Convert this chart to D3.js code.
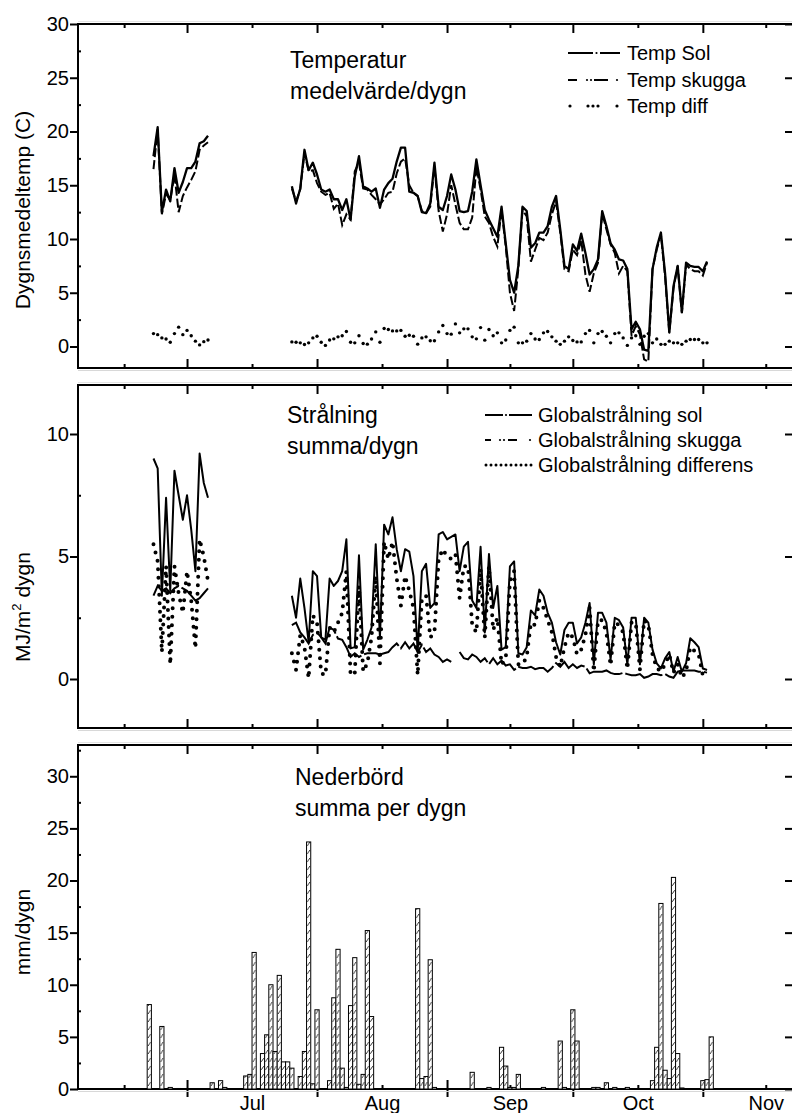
<!DOCTYPE html>
<html lang="sv">
<head>
<meta charset="utf-8">
<title>Temperatur, strålning och nederbörd</title>
<script src="https://cdn.jsdelivr.net/npm/d3@7"></script>
<style>
  body { margin: 0; background: #fff; }
  svg { display: block; }
  text { font-family: "Liberation Sans", Arial, sans-serif; fill: #000; }
</style>
</head>
<body>
<script>
var w = 792, h = 1113;
var left = 78, right = 793;

var parse = d3.timeParse("%Y-%m-%d");

// two measuring periods, one value per day
var days1 = d3.timeDay.range(parse("2001-06-23"), parse("2001-07-07"));
var days2 = d3.timeDay.range(parse("2001-07-26"), parse("2001-11-03"));

// Temperatur medelvärde/dygn (C)
var tempSol1 = [17.7, 20.4, 12.5, 14.6, 13.5, 16.6, 14.3, 15.3, 16.6, 16.6, 17.2, 18.9, 19.1, 19.6];
var tempSkugga1 = [16.5, 20.2, 12.3, 14.2, 13.6, 16.0, 12.5, 14.0, 14.8, 15.5, 16.3, 18.3, 18.7, 19.0];
var tempDiff1 = [1.2, 1.1, 0.8, 0.7, 0.4, 1.2, 1.8, 1.1, 1.5, 1.0, 0.5, 0.15, 0.45, 0.6];

var tempSol2 = [14.9, 13.3, 14.7, 18.3, 16.4, 17.1, 16.0, 14.6, 14.4, 14.6,
  13.7, 13.7, 12.7, 13.7, 11.8, 15.8, 17.7, 14.9, 14.7, 14.4,
  14.7, 12.9, 14.6, 15.2, 15.6, 17.2, 18.5, 18.5, 14.4, 14.3,
  14.0, 12.5, 12.4, 13.3, 17.1, 13.0, 12.7, 14.0, 16.0, 14.6,
  12.6, 12.5, 12.6, 14.4, 17.4, 15.0, 12.7, 11.8, 11.0, 10.2,
  13.0, 9.6, 6.2, 5.0, 7.5, 13.0, 12.6, 9.2, 9.6, 10.6,
  10.6, 11.2, 13.0, 14.0, 10.9, 7.5, 7.2, 9.5, 8.9, 10.5,
  8.7, 6.7, 7.2, 8.1, 12.6, 11.2, 9.6, 9.0, 8.1, 8.0,
  7.2, 1.6, 2.3, 1.6, -0.3, -0.4, 7.2, 9.2, 10.6, 6.8,
  1.3, 5.6, 7.5, 3.2, 7.8, 7.5, 7.4, 7.4, 7.0, 7.9];
var tempSkugga2 = [14.7, 13.5, 14.6, 18.0, 16.3, 16.4, 15.2, 14.4, 14.1, 14.3,
  12.8, 13.3, 11.3, 12.3, 11.8, 16.3, 17.1, 14.7, 14.6, 14.1,
  13.7, 13.2, 13.7, 14.3, 14.4, 16.1, 17.2, 17.5, 15.0, 14.3,
  14.0, 12.6, 12.4, 13.0, 16.7, 12.6, 10.7, 12.3, 15.0, 13.2,
  11.5, 10.9, 10.9, 12.0, 16.7, 14.6, 12.1, 11.5, 10.2, 9.3,
  12.7, 9.3, 5.0, 3.3, 7.2, 12.7, 12.1, 7.9, 9.0, 10.1,
  9.9, 10.6, 12.3, 13.5, 10.6, 7.2, 7.0, 9.0, 8.5, 9.9,
  6.7, 5.1, 6.8, 7.8, 12.4, 10.9, 9.5, 8.7, 6.8, 7.5,
  7.0, 1.0, 1.9, 1.1, -1.2, -1.4, 7.2, 9.0, 10.4, 6.5,
  1.3, 5.4, 7.5, 3.1, 7.6, 7.2, 7.0, 7.0, 6.6, 7.8];
var tempDiff2 = [0.43, 0.4, 0.34, 0.19, 0.34, 0.8, 0.96, 0.4, 0.1, 0.6,
  0.71, 0.9, 1.0, 1.4, 0.4, 0.34, 1.0, 0.28, 0.22, 0.7,
  1.36, 0.4, 1.67, 1.58, 1.45, 1.45, 1.5, 0.96, 1.05, 0.96,
  0.22, 0.8, 0.9, 0.53, 0.53, 1.36, 1.95, 1.2, 1.15, 2.1,
  1.27, 1.64, 1.64, 0.9, 0.71, 1.76, 0.59, 1.58, 1.0, 1.27,
  0.34, 0.6, 1.5, 1.8, 0.34, 0.34, 0.5, 1.2, 0.7, 0.65,
  1.27, 1.4, 0.9, 0.5, 0.2, 0.5, 0.9, 0.56, 0.43, 0.43,
  1.2, 1.5, 0.34, 1.2, 1.4, 0.96, 0.34, 1.2, 1.27, 0.8,
  0.1, 0.8, 1.0, 0.2, 0.96, 1.2, 0.34, 0.7, 0.2, 0.2,
  0.5, 0.34, 0.34, 0.2, 0.5, 0.65, 0.65, 0.65, 0.34, 0.34];

// Globalstrålning summa/dygn (MJ/m2 dygn)
var globSol1 = [9.0, 8.6, 3.4, 7.4, 3.6, 8.5, 7.5, 6.5, 7.5, 6.1, 4.4, 9.2, 8.0, 7.4];
var globSkugga1 = [3.4, 3.8, 3.6, 3.7, 3.5, 3.7, 3.8, 3.7, 3.6, 3.4, 3.2, 3.3, 3.5, 3.7];
var globDiff1 = [5.5, 4.8, 1.1, 4.6, 0.6, 4.6, 3.5, 2.7, 4.4, 3.2, 1.25, 5.7, 5.0, 4.0];

var globSol2 = [3.4, 2.5, 4.1, 2.9, 1.5, 4.4, 4.2, 1.7, 1.6, 4.1,
  3.8, 4.0, 4.4, 5.7, 1.25, 1.3, 5.05, 1.2, 1.6, 2.1,
  5.5, 1.7, 6.3, 5.9, 6.6, 5.3, 4.4, 5.3, 5.2, 4.2,
  1.1, 4.4, 4.7, 2.9, 3.1, 5.9, 6.0, 5.7, 5.8, 5.9,
  4.4, 5.4, 5.6, 3.2, 2.9, 5.4, 1.9, 5.1, 2.9, 3.8,
  1.2, 1.3, 4.6, 4.8, 1.05, 1.0, 1.3, 2.8, 2.6, 3.65,
  3.4, 2.7, 2.3, 1.5, 1.0, 2.0, 2.3, 2.3, 1.45, 1.7,
  2.3, 3.1, 0.6, 2.7, 2.7, 2.3, 0.8, 2.5, 2.4, 2.1,
  0.6, 2.5, 2.5, 0.6, 2.5, 2.3, 1.2, 0.64, 0.43, 0.84,
  1.1, 0.3, 0.9, 0.3, 0.64, 1.66, 1.5, 1.3, 0.43, 0.37];
var globSkugga2 = [2.2, 2.3, 1.9, 1.7, 1.45, 1.8, 1.9, 1.7, 1.45, 2.1,
  2.0, 1.65, 1.6, 1.3, 0.9, 1.05, 0.9, 1.0, 1.05, 1.05,
  1.05, 1.0, 1.05, 1.1, 1.3, 1.45, 1.25, 1.5, 1.25, 1.45,
  1.1, 1.4, 1.1, 1.25, 1.0, 0.9, 0.7, 0.8, 0.7, null,
  1.1, 0.85, 0.8, 1.0, 0.9, 0.7, 0.85, 0.6, 0.85, 0.6,
  0.75, 0.55, 0.6, 0.37, 0.5, 0.45, 0.45, 0.5, 0.4, 0.45,
  0.45, 0.3, 0.45, 0.65, 0.5, 0.7, 0.45, 0.6, 0.45, 0.55,
  0.5, 0.23, 0.3, 0.3, 0.3, 0.35, 0.25, 0.2, 0.2, 0.25,
  0.2, 0.15, 0.15, 0.2, 0.05, 0.1, 0.2, 0.2, 0.15, 0.2,
  0.1, 0.05, 0.3, 0.35, 0.35, 0.35, 0.35, 0.3, 0.3, 0.26];
var globDiff2 = [1.05, 0.37, 1.8, 1.3, 0.03, 2.6, 2.3, 0.23, 0.16, 2.1,
  1.9, 2.3, 2.7, 4.4, 0.16, 0.23, 3.8, 0.3, 0.64, 1.7,
  4.2, 0.64, 5.6, 4.9, 5.6, 4.1, 3.0, 4.2, 3.6, 2.9,
  0.16, 3.3, 3.4, 1.7, 1.9, 4.9, 5.3, 5.0, 4.9, 5.1,
  3.3, 4.6, 4.6, 2.2, 1.9, 4.5, 1.7, 4.6, 2.0, 2.5,
  0.6, 0.8, 4.0, 4.4, 0.6, 0.6, 0.9, 2.3, 2.2, 3.2,
  2.9, 2.4, 1.9, 0.9, 0.5, 1.3, 1.9, 1.7, 1.0, 1.2,
  1.8, 2.9, 0.3, 2.4, 2.4, 1.9, 0.55, 2.3, 2.2, 1.9,
  0.4, 2.3, 2.3, 0.4, 2.4, 2.2, 1.0, 0.45, 0.3, 0.6,
  1.0, 0.25, 0.6, 0.05, 0.3, 1.3, 1.15, 1.0, 0.15, 0.1];

// Nederbörd summa per dygn (mm)
var rainDays = ["06-22", "06-25", "06-27", "06-29", "07-07", "07-09", "07-10",
  "07-15", "07-16", "07-17", "07-19", "07-20", "07-21", "07-22", "07-23", "07-24", "07-25", "07-26",
  "07-28", "07-29", "07-30", "07-31", "08-01", "08-04", "08-05", "08-06", "08-07", "08-08",
  "08-09", "08-10", "08-11", "08-12", "08-13", "08-14", "08-25", "08-26", "08-27", "08-28", "08-29",
  "09-07", "09-11", "09-14", "09-15", "09-16", "09-17", "09-18", "09-24", "09-28", "09-29",
  "10-01", "10-02", "10-06", "10-07", "10-09", "10-11", "10-14", "10-20", "10-21", "10-22",
  "10-23", "10-24", "10-25", "10-26", "10-27", "11-01", "11-02", "11-03"];
var rainMm = [8.1, 6.0, 0.15, 0.05, 0.6, 0.8, 0.15,
  1.25, 1.4, 13.1, 3.4, 5.2, 10.0, 3.6, 10.9, 2.6, 2.6, 2.0,
  1.2, 3.6, 23.7, 0.5, 7.6, 0.8, 8.75, 13.4, 2.0, 0.15,
  8.0, 12.6, 0.45, 1.4, 15.2, 6.95, 17.3, 1.0, 1.2, 12.4, 0.15,
  1.6, 0.15, 4.0, 2.2, 0.15, 0.15, 1.4, 0.15, 4.6, 0.15,
  7.6, 4.6, 0.15, 0.15, 0.6, 0.15, 0.15, 0.8, 4.0, 17.8,
  1.8, 1.0, 20.3, 3.4, 0.1, 0.8, 0.9, 5.0];

var svg = d3.select("body").append("svg")
  .attr("width", w)
  .attr("height", h);

var x = d3.scaleTime()
  .domain([parse("2001-06-05"), new Date(2001, 10, 22, 12)])
  .range([left, right]);

var monthStarts = d3.timeMonth.range(parse("2001-06-01"), parse("2001-12-01"));
var majorX = monthStarts.filter(function(d) { return x(d) > left; });
var midX = monthStarts.map(function(d) {
  return new Date((+d + +d3.timeMonth.offset(d, 1)) / 2);
});
var dayW = x(parse("2001-06-06")) - x(parse("2001-06-05"));

// join the two periods, null makes the gap
function series(a, b) {
  var s = days1.map(function(d, i) { return {date: d, v: a[i]}; });
  s.push({date: null, v: null});
  return s.concat(days2.map(function(d, i) { return {date: d, v: b[i]}; }));
}

function clean(g) {
  g.select(".domain").remove();
  g.selectAll("line").attr("stroke", "#000").attr("stroke-width", 2);
  g.attr("font-size", 20).attr("font-family", "Liberation Sans, Arial, sans-serif");
}

function frame(top, bottom, domain, major, minor, labels) {
  var y = d3.scaleLinear().domain(domain).range([bottom, top]);
  var g = svg.append("g");

  g.append("g").attr("transform", "translate(" + left + ",0)")
    .call(d3.axisLeft(y).tickValues(major).tickSize(8).tickPadding(1).tickSizeOuter(0))
    .call(clean);
  g.append("g").attr("transform", "translate(" + left + ",0)")
    .call(d3.axisLeft(y).tickValues(minor).tickSize(-3).tickFormat("").tickSizeOuter(0))
    .call(clean);
  g.append("g").attr("transform", "translate(" + right + ",0)")
    .call(d3.axisRight(y).tickValues(major).tickSize(-8).tickFormat("").tickSizeOuter(0))
    .call(clean);
  g.append("g").attr("transform", "translate(0," + top + ")")
    .call(d3.axisTop(x).tickValues(majorX).tickSize(-9).tickFormat("").tickSizeOuter(0))
    .call(clean);
  g.append("g").attr("transform", "translate(0," + top + ")")
    .call(d3.axisTop(x).tickValues(midX).tickSize(-4).tickFormat("").tickSizeOuter(0))
    .call(clean);
  g.append("g").attr("transform", "translate(0," + bottom + ")")
    .call(d3.axisBottom(x).tickValues(majorX).tickSize(-9).tickFormat("").tickSizeOuter(0))
    .call(clean);
  g.append("g").attr("transform", "translate(0," + bottom + ")")
    .call(d3.axisBottom(x).tickValues(midX).tickSize(-4).tickFormat("").tickSizeOuter(0))
    .call(clean);

  if (labels) {
    g.append("g").attr("transform", "translate(0," + bottom + ")")
      .call(d3.axisBottom(x).tickValues(majorX).tickSize(8).tickFormat("").tickSizeOuter(0))
      .call(clean);
    g.append("g").attr("transform", "translate(0," + bottom + ")")
      .call(d3.axisBottom(x).tickValues(midX.filter(function(d) { return x(d) > 200; }))
        .tickSize(0).tickPadding(7).tickFormat(d3.timeFormat("%b")).tickSizeOuter(0))
      .call(clean);
  }

  // faint edge shadow like the original print
  g.append("line").attr("x1", left).attr("x2", w).attr("y1", bottom + 2.5).attr("y2", bottom + 2.5)
    .attr("stroke", "#d8d8d8").attr("stroke-width", 1);
  g.append("line").attr("x1", left).attr("x2", w).attr("y1", top - 2.5).attr("y2", top - 2.5)
    .attr("stroke", "#e4e4e4").attr("stroke-width", 1);

  g.append("rect")
    .attr("x", left).attr("y", top)
    .attr("width", right - left).attr("height", bottom - top)
    .attr("fill", "none").attr("stroke", "#000").attr("stroke-width", 2);
  return y;
}

function line(y) {
  return d3.line()
    .defined(function(d) { return d.v !== null; })
    .x(function(d) { return x(d.date); })
    .y(function(d) { return y(d.v); });
}

function title(tx, ty, lines) {
  var t = svg.append("text").attr("x", tx).attr("y", ty).attr("font-size", 23);
  lines.forEach(function(s, i) {
    t.append("tspan").attr("x", tx).attr("dy", i === 0 ? 0 : 31).text(s);
  });
}

function ytitle(cx, cy, s) {
  return svg.append("text")
    .attr("transform", "translate(" + cx + "," + cy + ") rotate(-90)")
    .attr("text-anchor", "middle")
    .attr("font-size", 21)
    .text(s);
}

function legendText(tx, ty, s) {
  svg.append("text").attr("x", tx).attr("y", ty).attr("font-size", 20).text(s);
}

function seg(x1, x2, yy, sw) {
  svg.append("line").attr("x1", x1).attr("x2", x2).attr("y1", yy).attr("y2", yy)
    .attr("stroke", "#000").attr("stroke-width", sw || 2);
}
function dot(cx, cy, r) {
  svg.append("circle").attr("cx", cx).attr("cy", cy).attr("r", r).attr("fill", "#000");
}

// ---------- panel 1: temperatur ----------
var y1 = frame(24, 368, [-2, 30], d3.range(0, 31, 5), d3.range(2.5, 30, 5), false);

svg.append("path")
  .datum(series(tempSkugga1, tempSkugga2))
  .attr("fill", "none").attr("stroke", "#000").attr("stroke-width", 2)
  .attr("stroke-dasharray", "9,3")
  .attr("d", line(y1));
svg.append("path")
  .datum(series(tempSol1, tempSol2))
  .attr("fill", "none").attr("stroke", "#000").attr("stroke-width", 2.3)
  .attr("stroke-linejoin", "round")
  .attr("d", line(y1));
svg.append("g").selectAll("circle")
  .data(series(tempDiff1, tempDiff2).filter(function(d) { return d.v !== null; }))
  .enter().append("circle")
  .attr("cx", function(d) { return x(d.date); })
  .attr("cy", function(d) { return y1(d.v); })
  .attr("r", 1.7)
  .attr("fill", "#000");

title(290, 68, ["Temperatur", "medelvärde/dygn"]);
ytitle(30, 210, "Dygnsmedeltemp (C)");

seg(568, 593, 53); dot(596.5, 53, 1.1); seg(600, 620, 53);
legendText(627, 60, "Temp Sol");
seg(568, 577, 80); dot(587, 80, 1.1); dot(591, 80, 1.1); seg(594, 608, 80); dot(617, 80, 1.1);
legendText(627, 87, "Temp skugga");
[570, 588, 593, 598, 617].forEach(function(cx) { dot(cx, 106, 1.6); });
legendText(627, 113, "Temp diff");

// ---------- panel 2: strålning ----------
var y2 = frame(385, 728, [-2, 12], [0, 5, 10], [2.5, 7.5], false);

svg.append("path")
  .datum(series(globDiff1, globDiff2))
  .attr("fill", "none").attr("stroke", "#000").attr("stroke-width", 4)
  .attr("stroke-linecap", "round").attr("stroke-dasharray", "0,8.5")
  .attr("d", line(y2));
svg.append("path")
  .datum(series(globSkugga1, globSkugga2))
  .attr("fill", "none").attr("stroke", "#000").attr("stroke-width", 2)
  .attr("stroke-dasharray", "40,3")
  .attr("d", line(y2));
svg.append("path")
  .datum(series(globSol1, globSol2))
  .attr("fill", "none").attr("stroke", "#000").attr("stroke-width", 2)
  .attr("stroke-linejoin", "round")
  .attr("d", line(y2));

title(287, 423, ["Strålning", "summa/dygn"]);
var t2 = ytitle(30, 607, "MJ/m");
t2.append("tspan").attr("dy", -9).attr("font-size", 13).text("2");
t2.append("tspan").attr("dy", 9).text(" dygn");

seg(485, 503, 415); dot(506, 415, 1.1); seg(509, 532, 415);
legendText(538, 422, "Globalstrålning sol");
seg(485, 491, 440); dot(500, 440, 1.1); dot(504, 440, 1.1); seg(508, 517, 440); dot(530, 440, 1.1);
legendText(538, 447, "Globalstrålning skugga");
d3.range(486, 533, 5).forEach(function(cx) { dot(cx, 465, 1.5); });
legendText(538, 472, "Globalstrålning differens");

// ---------- panel 3: nederbörd ----------
var y3 = frame(745, 1089, [0, 33], d3.range(0, 31, 5), d3.range(2.5, 33, 5), true);

var defs = svg.append("defs");
var hatch = defs.append("pattern")
  .attr("id", "hatch")
  .attr("patternUnits", "userSpaceOnUse")
  .attr("x", left - dayW / 2).attr("y", 0)
  .attr("width", dayW).attr("height", 8);
hatch.append("rect").attr("width", dayW).attr("height", 8).attr("fill", "#fff");
hatch.append("line")
  .attr("x1", 0.8).attr("y1", 6).attr("x2", dayW - 0.8).attr("y2", 2)
  .attr("stroke", "#000").attr("stroke-width", 0.8);

var rain = rainDays.map(function(d, i) { return {date: parse("2001-" + d), v: rainMm[i]}; });

svg.append("g").selectAll("rect")
  .data(rain)
  .enter().append("rect")
  .attr("x", function(d) { return x(d.date) - dayW / 2; })
  .attr("y", function(d) { return y3(d.v); })
  .attr("width", dayW)
  .attr("height", function(d) { return y3(0) - y3(d.v); })
  .attr("fill", "url(#hatch)")
  .attr("stroke", "#000")
  .attr("stroke-width", 1);

title(295, 785, ["Nederbörd", "summa per dygn"]);
ytitle(30, 932, "mm/dygn");
</script>
</body>
</html>
